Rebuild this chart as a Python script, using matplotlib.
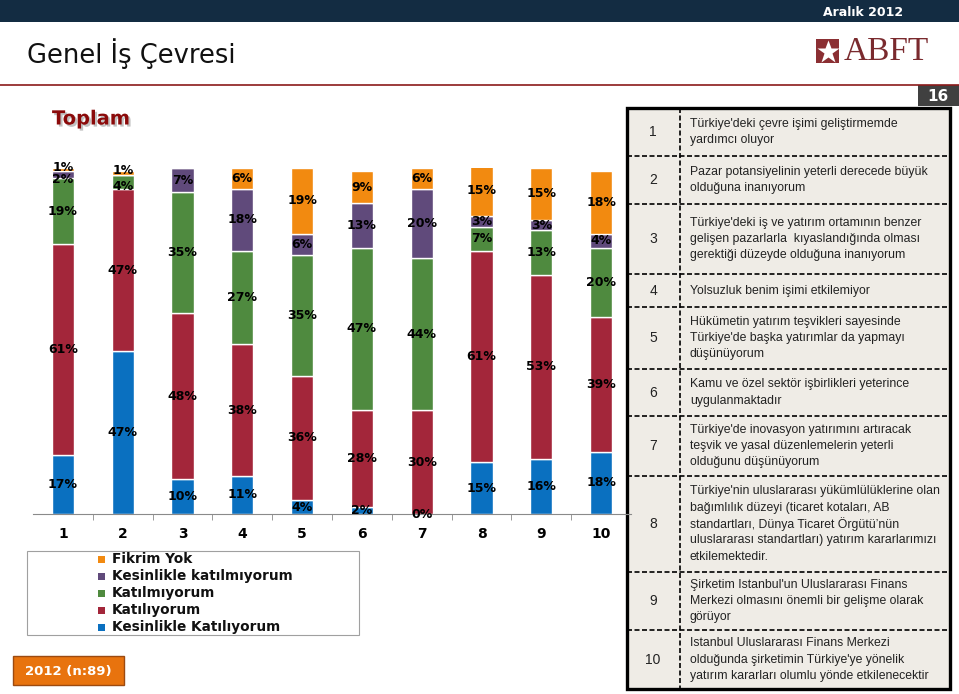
import matplotlib
matplotlib.use("Agg")
import matplotlib.pyplot as plt
import matplotlib.patches as mpatches
import matplotlib.patheffects as pe
import numpy as np

W, H = 959, 694
nan = np.nan

# Data
QUESTIONS = ["1", "2", "3", "4", "5", "6", "7", "8", "9", "10"]
SERIES = ["Kesinlikle Katılıyorum", "Katılıyorum", "Katılmıyorum",
          "Kesinlikle katılmıyorum", "Fikrim Yok"]
COLORS = ["#0a70c0", "#a3263a", "#4f8a3f", "#604a7b", "#f28a10"]

strongly_agree = [17, 47, 10, 11, 4, 2, 0, 15, 16, 18]
agree = [61, 47, 48, 38, 36, 28, 30, 61, 53, 39]
disagree = [19, 4, 35, 27, 35, 47, 44, 7, 13, 20]
strongly_disagree = [2, nan, 7, 18, 6, 13, 20, 3, 3, 4]
no_opinion = [1, 1, nan, 6, 19, 9, 6, 15, 15, 18]

STATEMENTS = [
    "Türkiye'deki çevre işimi geliştirmemde\nyardımcı oluyor",
    "Pazar potansiyelinin yeterli derecede büyük\nolduğuna inanıyorum",
    "Türkiye'deki iş ve yatırım ortamının benzer\ngelişen pazarlarla  kıyaslandığında olması\n"
    "gerektiği düzeyde olduğuna inanıyorum",
    "Yolsuzluk benim işimi etkilemiyor",
    "Hükümetin yatırım teşvikleri sayesinde\nTürkiye'de başka yatırımlar da yapmayı\ndüşünüyorum",
    "Kamu ve özel sektör işbirlikleri yeterince\nuygulanmaktadır",
    "Türkiye'de inovasyon yatırımını artıracak\nteşvik ve yasal düzenlemelerin yeterli\n"
    "olduğunu düşünüyorum",
    "Türkiye'nin uluslararası yükümlülüklerine olan\nbağımlılık düzeyi (ticaret kotaları, AB\n"
    "standartları, Dünya Ticaret Örgütü’nün\nuluslararası standartları) yatırım kararlarımızı\n"
    "etkilemektedir.",
    "Şirketim Istanbul'un Uluslararası Finans\nMerkezi olmasını önemli bir gelişme olarak\ngörüyor",
    "Istanbul Uluslararası Finans Merkezi\nolduğunda şirketimin Türkiye'ye yönelik\n"
    "yatırım kararları olumlu yönde etkilenecektir",
]

# table row edges in pixels (layout)
ROW_EDGES = [108, 156, 204, 274, 307, 369, 416, 476, 572, 630, 689]


def px(left, top, width, height):
    return [left / W, 1 - (top + height) / H, width / W, height / H]


def main():
    fig = plt.figure(figsize=(W / 100, H / 100), dpi=100)

    # background / decoration layer in pixel coordinates
    bg = fig.add_axes([0, 0, 1, 1], zorder=0)
    bg.set_xlim(0, W)
    bg.set_ylim(H, 0)
    bg.axis("off")

    # header
    bg.add_patch(mpatches.Rectangle((0, 0), W, 22, color="#132c42", lw=0))
    bg.text(863, 12, "Aralık 2012", color="white", fontsize=9, fontweight="bold",
            ha="center", va="center")
    bg.text(27, 54, "Genel İş Çevresi", fontsize=18.5, ha="left", va="center",
            color="#111111")
    bg.plot([0, W], [85, 85], color="#8b1a1a", lw=1.2)
    bg.add_patch(mpatches.Rectangle((816, 39), 23, 24, color="#8b2f33", lw=0))
    bg.plot([827.5], [51.5], marker="*", color="white", markersize=17, mec="none")
    bg.text(844, 52, "ABFT", fontsize=24, family="Liberation Serif",
            color="#7a2a2e", ha="left", va="center")
    bg.add_patch(mpatches.Rectangle((918, 85), 41, 21, color="#404040", lw=0))
    bg.text(938, 96, "16", color="white", fontsize=11, fontweight="bold",
            ha="center", va="center")
    bg.text(52, 119, "Toplam", fontsize=14, fontweight="bold", color="#8b0a0a",
            ha="left", va="center",
            path_effects=[pe.withSimplePatchShadow(offset=(1.5, -1.5),
                                                   shadow_rgbFace="#999999",
                                                   alpha=0.6)])

    # legend box
    bg.add_patch(mpatches.Rectangle((27, 551), 332, 84, fill=False,
                                    ec="#a0a0a0", lw=0.8))
    for k, name in enumerate(SERIES[::-1]):
        y = 559 + k * 17
        bg.add_patch(mpatches.Rectangle((98, y - 3.5), 7, 7,
                                        color=COLORS[::-1][k], lw=0))
        bg.text(112, y, name, fontsize=9.8, fontweight="bold",
                ha="left", va="center", color="#111111")

    # sample box
    bg.add_patch(mpatches.Rectangle((13, 656), 111, 29, fc="#e8730e",
                                    ec="#9c4a10", lw=1))
    bg.text(68.5, 671, "2012 (n:89)", color="white", fontsize=9.5,
            fontweight="bold", ha="center", va="center")

    # statement table
    tl, tr = 627, 950
    bg.add_patch(mpatches.Rectangle((tl, ROW_EDGES[0]), tr - tl,
                                    ROW_EDGES[-1] - ROW_EDGES[0],
                                    fc="#efece6", ec="black", lw=2.4, zorder=3))
    for e in ROW_EDGES[1:-1]:
        bg.plot([tl, tr], [e, e], color="black", lw=1.2,
                ls=(0, (3, 1.5)), zorder=4)
    bg.plot([680, 680], [ROW_EDGES[0], ROW_EDGES[-1]], color="black", lw=1.2,
            ls=(0, (3, 1.5)), zorder=4)
    for i, (q, stmt) in enumerate(zip(QUESTIONS, STATEMENTS)):
        yc = (ROW_EDGES[i] + ROW_EDGES[i + 1]) / 2
        bg.text(653, yc, q, fontsize=10, family="Liberation Sans",
                ha="center", va="center", color="#222222", zorder=5)
        lines = stmt.split("\n")
        for j, line in enumerate(lines):
            y = yc + (j - (len(lines) - 1) / 2) * 16.3
            bg.text(690, y, line, fontsize=8.85, family="Liberation Sans",
                    ha="left", va="center", color="#222222", zorder=5)

    # stacked bar chart
    ax = fig.add_axes(px(33, 168, 598, 346), zorder=1)
    ax.patch.set_alpha(0)
    x = np.arange(1, len(QUESTIONS) + 1)
    series_vals = [np.array(s, dtype=float) for s in
                   [strongly_agree, agree, disagree, strongly_disagree, no_opinion]]
    bottom = np.zeros(len(QUESTIONS))
    for si, (v, color) in enumerate(zip(series_vals, COLORS)):
        h = np.nan_to_num(v)
        ax.bar(x, h, 0.37, bottom=bottom, color=color, edgecolor="white",
               linewidth=1.0)
        for qi, (xi, b, val) in enumerate(zip(x, bottom, v)):
            if np.isnan(val):
                continue
            dy = 0
            # tiny segments at the top of a stack: spread labels apart
            if si == 4 and val < 3:
                dy = 2.5
            elif si in (2, 3) and val < 5:
                above = np.nan_to_num(series_vals[si + 1][qi]) + \
                    (np.nan_to_num(series_vals[4][qi]) if si == 2 else 0)
                if above < 5:
                    dy = -4.5
            ax.annotate(f"{int(val)}%", (xi, b + val / 2), xytext=(0, dy),
                        textcoords="offset pixels", ha="center", va="center",
                        fontsize=9, fontweight="bold", color="black")
        bottom += h

    ax.set_xlim(0.5, len(QUESTIONS) + 0.5)
    ax.set_ylim(0, 100)
    for s in ["top", "right", "left"]:
        ax.spines[s].set_visible(False)
    ax.spines["bottom"].set_color("#8a8a8a")
    ax.set_yticks([])
    ax.set_xticks(x)
    ax.set_xticklabels(QUESTIONS, fontsize=10, fontweight="bold")
    ax.tick_params(axis="x", length=0, pad=9)
    ax.set_xticks(np.arange(1.5, len(QUESTIONS)), minor=True)
    ax.tick_params(axis="x", which="minor", length=4, color="#8a8a8a")

    fig.savefig("out.png", dpi=100)
    plt.close(fig)


if __name__ == "__main__":
    main()
